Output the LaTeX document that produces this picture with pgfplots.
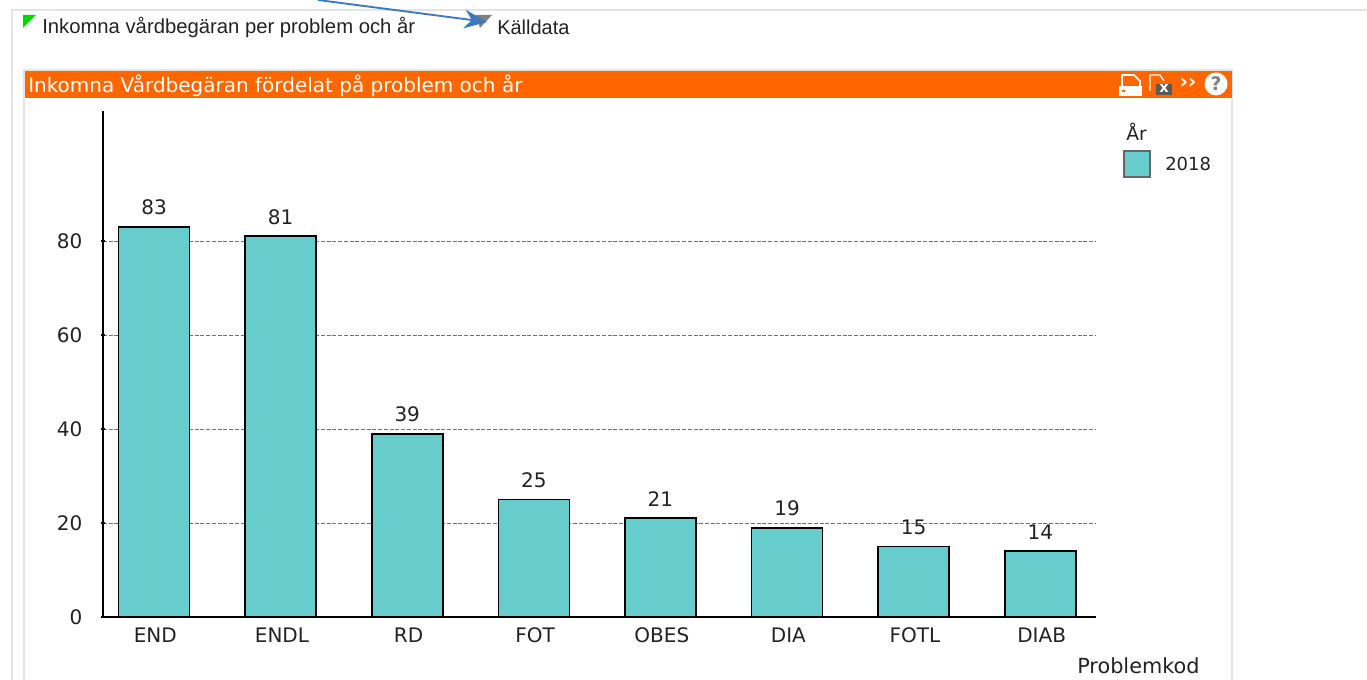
\documentclass[border=0pt]{standalone}
\usepackage{fontspec}
\usepackage{pgfplots}
\pgfplotsset{compat=1.18}
\usetikzlibrary{arrows.meta}
\setmainfont{DejaVu Sans}
\newfontfamily\webfont{Liberation Sans}
\definecolor{barfill}{HTML}{66CDCC}
\definecolor{headbar}{HTML}{FF6600}
\definecolor{panel}{HTML}{E4E4E4}
\definecolor{arrowblue}{HTML}{3F78BE}
\definecolor{txt}{HTML}{222222}
\definecolor{gridc}{HTML}{707070}
\begin{document}
\begin{tikzpicture}[x=0.75pt,y=-0.75pt]
\path[use as bounding box] (0,0) rectangle (1367,680);
% page furniture, in pixels from the top left corner
\draw[panel,line width=1.2pt] (12,680) -- (12,10) -- (1367,10);
\draw[panel,line width=0.9pt] (24,680) -- (24,70) -- (1232,70) -- (1232,680);
\fill[headbar] (25,71) rectangle (1232,98);
\node[anchor=west,inner sep=0pt,text=white,font=\fontsize{15}{15}\selectfont] at (28,86) {Inkomna Vårdbegäran fördelat på problem och år};
\node[anchor=west,inner sep=0pt,text=txt,font=\webfont\fontsize{15.2}{15}\selectfont] at (42,27) {Inkomna vårdbegäran per problem och år};
\node[anchor=west,inner sep=0pt,text=txt,font=\webfont\fontsize{15}{15}\selectfont] at (497,27) {Källdata};
\fill[green!85!black] (23,15) -- (36,15) -- (23,28) -- cycle;
\fill[gray] (476,15) -- (492,15) -- (480,28) -- cycle;
\draw[arrowblue,line width=1.4pt,-{Stealth[length=17pt,width=14pt]}] (318,0) -- (487,22);
% icons in the header
\fill[white] (1119,86) rectangle (1142,96);
\fill[headbar] (1122,90) rectangle (1125,92);
\draw[white,line width=1.2pt] (1122,86) -- (1122,75) -- (1134,75) -- (1140,81) -- (1140,86);
\draw[white,line width=1pt] (1150,91) -- (1150,75) -- (1160,75) -- (1164,81);
\fill[gray!70!black] (1156,84) rectangle (1172,95);
\node[inner sep=0pt,text=white,font=\bfseries\fontsize{11}{11}\selectfont] at (1164,88) {x};
\node[inner sep=0pt,text=white,font=\bfseries\fontsize{15}{15}\selectfont] at (1188,83) {››};
\fill[white] (1216,84) circle (11.5);
\node[inner sep=0pt,text=gray,font=\bfseries\fontsize{14}{14}\selectfont] at (1216,84) {?};
% legend
\node[anchor=west,inner sep=0pt,text=txt,font=\fontsize{14}{14}\selectfont] at (1126,132) {År};
\filldraw[fill=barfill,draw=gray!80!black,line width=0.8pt] (1124,151) rectangle (1150,177);
\node[anchor=west,inner sep=0pt,text=txt,font=\fontsize{13.5}{14}\selectfont] at (1165,164) {2018};
\node[anchor=west,inner sep=0pt,text=txt,font=\fontsize{15.6}{14}\selectfont] at (1077,666) {Problemkod};
\begin{axis}[
  at={(77.25pt,-462.75pt)}, anchor=south west,
  scale only axis, width=744.75pt, height=379.5pt,
  xmin=-0.403, xmax=7.44, ymin=0, ymax=107.66,
  axis lines=left, axis line style={black,line width=1pt,-},
  ybar, bar width=53.25pt,
  xtick=data, xticklabels={END,ENDL,RD,FOT,OBES,DIA,FOTL,DIAB},
  ytick={0,20,40,60,80},
  xtick style={draw=none},
  ytick style={black,line width=0.8pt},
  major tick length=3pt,
  ymajorgrids, grid style={gridc,line width=0.7pt,dash pattern=on 3pt off 1.3pt},
  /pgf/number format/assume math mode=true,
  tick label style={font=\fontsize{15}{15}\selectfont,text=txt},
  xticklabel style={yshift=-1.5pt,xshift=1pt},
  yticklabel style={xshift=-10.5pt},
  nodes near coords,
  every node near coord/.append style={font=\fontsize{15}{15}\selectfont,text=txt,yshift=5pt,
    /pgf/number format/assume math mode=true},
]
\addplot[fill=barfill,draw=black,line width=1.25pt] coordinates {
  (0,83) (1,81) (2,39) (3,25) (4,21) (5,19) (6,15) (7,14)};
\end{axis}
\end{tikzpicture}
\end{document}
